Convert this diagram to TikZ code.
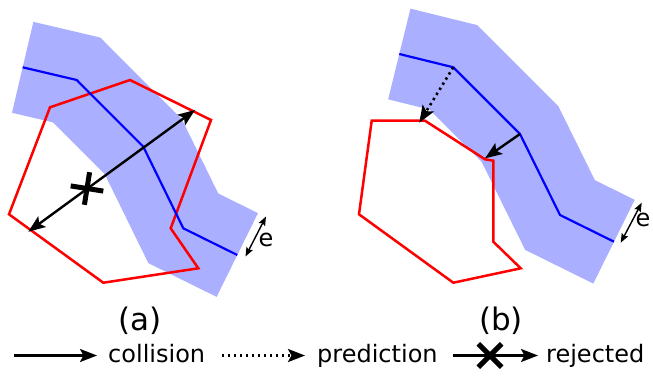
\documentclass[tikz,border=0pt]{standalone}
\usepackage{fontspec}
\setmainfont{DejaVu Sans}
\usetikzlibrary{arrows.meta,calc}
\definecolor{bandcol}{RGB}{170,175,255}
\begin{document}
\begin{tikzpicture}[x=1pt,y=-1pt,
  band/.style={draw=bandcol, line width=93.4pt, line join=miter, line cap=butt},
  traj/.style={draw=blue, line width=2.2pt, line join=miter},
  obst/.style={draw=red, line width=2.5pt, line join=miter},
  arr/.style={line width=2.4pt, -{Stealth[length=17pt,width=13pt,inset=3.5pt]}},
  darr/.style={line width=2.4pt, {Stealth[length=17pt,width=13pt,inset=3.5pt]}-{Stealth[length=17pt,width=13pt,inset=3.5pt]}},
  dotarr/.style={line width=2.6pt, dash pattern=on 2.4pt off 3.6pt, -{Stealth[length=17pt,width=13pt,inset=3.5pt]}},
  earr/.style={line width=1.4pt, {Stealth[length=9pt,width=7pt,inset=1.5pt]}-{Stealth[length=9pt,width=7pt,inset=1.5pt]}},
  xmark/.style={line width=5pt},
  lbl/.style={font=\fontsize{24}{28}\selectfont, inner sep=0pt},
  captxt/.style={font=\fontsize{31}{36}\selectfont, inner sep=0pt}]
\useasboundingbox (0,0) rectangle (653,381);

% ---------- panel (a) ----------
\coordinate (a1) at (22.7,67.3);
\coordinate (a2) at (76.7,80);
\coordinate (a3) at (143.3,146.7);
\coordinate (a4) at (183.3,228.3);
\coordinate (a5) at (237.3,255);
\draw[band] (a1) -- (a2) -- (a3) -- (a4) -- (a5);
\draw[obst] (50,107.3) -- (130,80) -- (211,120) -- (170.7,228.3) -- (198.3,268.3) -- (103.3,282.7) -- (9,214.3) -- cycle;
\draw[traj] (a1) -- (a2) -- (a3) -- (a4) -- (a5);
\coordinate (aL) at (28.3,231.7);
\coordinate (aR) at (195,110);
\draw[darr] (aL) -- (aR);
\coordinate (ax) at (87,188.5);
\draw[xmark] (ax) ++(9:16.5) -- ++(189:33);
\draw[xmark] (ax) ++(-81:16.5) -- ++(99:33);
\coordinate (ae1) at (245.5,256.5);
\coordinate (ae2) at (266,216.5);
\draw[earr] (ae1) -- (ae2);
\node[lbl] (ea) at (266,240) {e};

% ---------- panel (b) ----------
\coordinate (b1) at (399.3,54);
\coordinate (b2) at (453.3,67.3);
\coordinate (b3) at (520,134);
\coordinate (b4) at (560,215);
\coordinate (b5) at (614,241.7);
\draw[band] (b1) -- (b2) -- (b3) -- (b4) -- (b5);
\draw[obst] (371.7,120.7) -- (425,120.7) -- (485,159.3) -- (493.3,160.7) -- (493.3,241.7) -- (520.7,268.3) -- (453.3,282.7) -- (359,214.3) -- cycle;
\draw[traj] (b1) -- (b2) -- (b3) -- (b4) -- (b5);
\coordinate (bp) at (419.3,122.7);
\coordinate (bc) at (485,158.3);
\draw[dotarr] (b2) -- (bp);
\draw[arr] (b3) -- (bc);
\coordinate (be1) at (620.7,242.7);
\coordinate (be2) at (641.7,202.7);
\draw[earr] (be1) -- (be2);
\node[lbl] (eb) at (643,220) {e};

% ---------- captions ----------
\node[captxt, anchor=base] (capa) at (140,330) {(a)};
\node[captxt, anchor=base] (capb) at (501,330) {(b)};

% ---------- legend ----------
\coordinate (l1s) at (14,355.5);
\coordinate (l1e) at (97,355.5);
\draw[arr] (l1s) -- (l1e);
\node[lbl, anchor=base west] (t1) at (108,362) {collision};
\coordinate (l2s) at (222,355.5);
\coordinate (l2e) at (305,355.5);
\draw[dotarr] (l2s) -- (l2e);
\node[lbl, anchor=base west] (t2) at (317,362) {prediction};
\coordinate (l3s) at (453,355.5);
\coordinate (l3e) at (538,355.5);
\draw[arr] (l3s) -- (l3e);
\coordinate (lx) at (490,355.5);
\draw[xmark] (lx) ++(45:16.5) -- ++(225:33);
\draw[xmark] (lx) ++(-45:16.5) -- ++(135:33);
\node[lbl, anchor=base west] (t3) at (546,362) {rejected};
\end{tikzpicture}
\end{document}
